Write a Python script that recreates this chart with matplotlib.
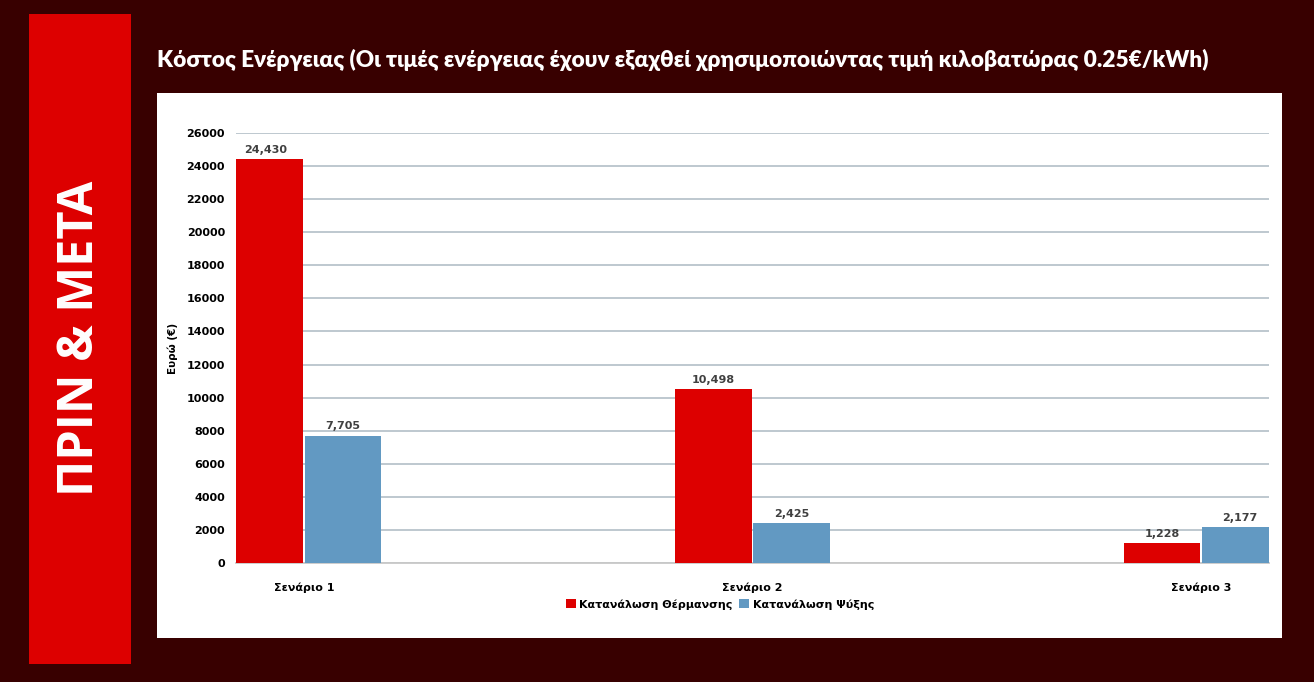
import matplotlib
matplotlib.use("Agg")
import matplotlib.pyplot as plt
import numpy as np
from matplotlib.patches import Rectangle

# data
scenarios = ["Σενάριο 1", "Σενάριο 2", "Σενάριο 3"]
heating = [24430, 10498, 1228]
cooling = [7705, 2425, 2177]
series_names = ["Κατανάλωση Θέρμανσης", "Κατανάλωση Ψύξης"]
yticks = [0, 2000, 4000, 6000, 8000, 10000, 12000, 14000, 16000, 18000, 20000, 22000, 24000, 26000]

bg = "#380000"
red = "#dd0000"
blue = "#6299c2"

fig = plt.figure(figsize=(13.14, 6.82), dpi=100, facecolor=bg)

# red side panel + white chart box
fig.patches.append(Rectangle((0.0221, 0.0264), 0.0776, 0.953, transform=fig.transFigure,
                             facecolor=red, edgecolor="none", zorder=-2))
fig.patches.append(Rectangle((0.1195, 0.0645), 0.8562, 0.7991, transform=fig.transFigure,
                             facecolor="white", edgecolor="none", zorder=-2))

fig.text(0.0609, 0.504, "ΠΡΙΝ & ΜΕΤΑ", rotation=90, color="white", fontsize=35,
         fontweight="bold", family="Open Sans", ha="center", va="center")
fig.text(0.1195, 0.912, "Κόστος Ενέργειας (Οι τιμές ενέργειας έχουν εξαχθεί χρησιμοποιώντας τιμή κιλοβατώρας 0.25€/kWh)",
         color="white", fontsize=16.3, fontweight="heavy", family="Lato", ha="left", va="center")

ax = fig.add_axes([0.1796, 0.1745, 0.7862, 0.6305])
ax.set_facecolor("none")
ax.set_zorder(2)

x = np.arange(len(scenarios))
w = 0.17
b1 = ax.bar(x - w / 2 - 0.002, heating, w, color=red, label=series_names[0], zorder=3)
b2 = ax.bar(x + w / 2 + 0.002, cooling, w, color=blue, label=series_names[1], zorder=3)

for bars, vals in [(b1, heating), (b2, cooling)]:
    for r, v in zip(bars, vals):
        ax.text(r.get_x() + r.get_width() / 2, v + 250, "{:,}".format(v), ha="center", va="bottom",
                fontsize=8, fontweight="bold", color="#404040", zorder=4)

ax.set_xlim(-0.152, 2.152)
ax.set_ylim(0, 26000)
ax.set_yticks(yticks)
ax.set_yticklabels([str(t) for t in yticks], fontsize=8, fontweight="bold")
ax.set_xticks(x)
ax.set_xticklabels(scenarios, fontsize=8, fontweight="bold")
ax.tick_params(axis="y", length=0, pad=8)
ax.tick_params(axis="x", length=0, pad=14)
ax.grid(axis="y", color="#b9c4cc", linewidth=1.3, zorder=0)
for s in ["top", "right", "left"]:
    ax.spines[s].set_visible(False)
ax.spines["bottom"].set_color("#c8c8c8")
ax.spines["bottom"].set_linewidth(1.3)
ax.set_ylabel("Ευρώ (€)", fontsize=7.5, fontweight="bold", labelpad=6)

fig.legend(handles=[b1, b2], loc="center", bbox_to_anchor=(0.548, 0.114), ncol=2, frameon=False,
           prop={"size": 8, "weight": "bold"}, handlelength=0.9, handleheight=0.9,
           handletextpad=0.3, columnspacing=0.6)

plt.savefig("out.png", dpi=100, facecolor=bg)
